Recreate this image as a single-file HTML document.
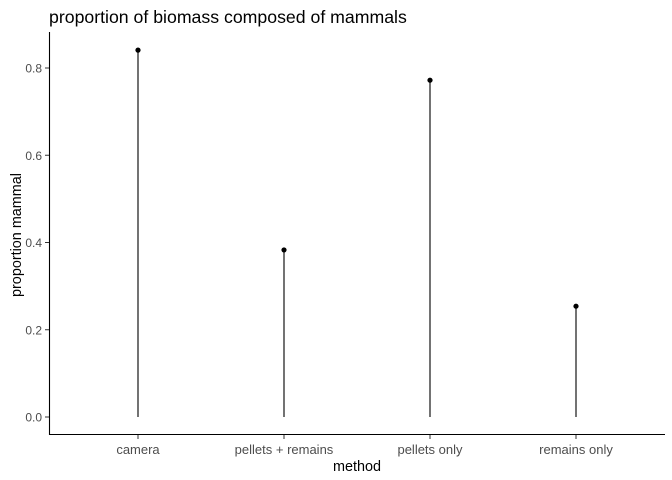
<!DOCTYPE html>
<html><head><meta charset="utf-8"><style>
body{margin:0;background:#fff;}
svg{display:block;font-family:"Liberation Sans",sans-serif;}
</style></head><body>
<svg id="chart" width="672" height="480">
<text x="49" y="23" font-size="17.7" fill="#000">proportion of biomass composed of mammals</text>
<g id="plot"></g>
<text x="357" y="471" font-size="14.4" text-anchor="middle" fill="#000">method</text>
<text transform="translate(21,235) rotate(-90)" font-size="14.4" text-anchor="middle" fill="#000">proportion mammal</text>
</svg>
<script>
const categories=["camera","pellets + remains","pellets only","remains only"];
const values=[0.841,0.383,0.772,0.254];
const yTicks=[0,0.2,0.4,0.6,0.8];
const yTickLabels=["0.0","0.2","0.4","0.6","0.8"];
const NS="http://www.w3.org/2000/svg";
const g=document.getElementById('plot');
const y=v=>417-v*436.25;
const x=i=>138+i*146;
function el(t,a){const e=document.createElementNS(NS,t);for(const k in a)e.setAttribute(k,a[k]);g.appendChild(e);return e;}
let ax=el('line',{x1:49.5,y1:32,x2:49.5,y2:435,stroke:'#000','stroke-width':1.1});


let bx=el('line',{x1:49,y1:434.5,x2:665,y2:434.5,stroke:'#000','stroke-width':1.1});


yTicks.forEach((v,i)=>{
  let t=el('line',{x1:45,x2:49,y1:y(v),y2:y(v),stroke:'#333'});
  
  
  let l=el('text',{x:42,y:y(v)+4.5,'font-size':12,'text-anchor':'end',fill:'#4d4d4d'});
  l.textContent=yTickLabels[i];
  
  
});
categories.forEach((c,i)=>{
  let t=el('line',{x1:x(i),x2:x(i),y1:435,y2:439,stroke:'#333'});
  
  
  let l=el('text',{x:x(i),y:454,'font-size':13,'text-anchor':'middle',fill:'#4d4d4d'});
  l.textContent=c;
  
  
  let s=el('line',{x1:x(i),x2:x(i),y1:y(0),y2:y(values[i]),stroke:'#000','stroke-width':1.1});
  
  
  let p=el('circle',{cx:x(i),cy:y(values[i]),r:2.6,fill:'#000'});
  
  
});
</script>
</body></html>
